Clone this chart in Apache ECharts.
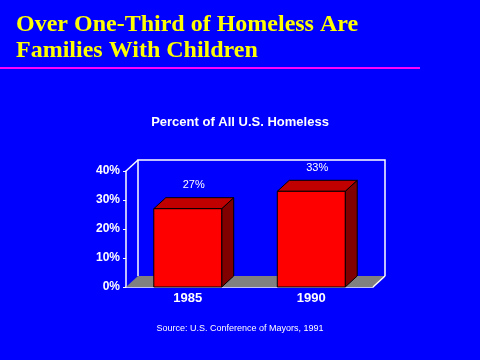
<!DOCTYPE html>
<html>
<head>
<meta charset="utf-8">
<script src="https://cdn.jsdelivr.net/npm/echarts@6/dist/echarts.min.js"></script>
<style>html,body{margin:0;padding:0;background:#0000FF;}#c{width:480px;height:360px;}</style>
</head>
<body>
<div id="c"></div>
<script>
var categories = ['1985', '1990'];
var values = [27, 33];
var yTicks = [0, 10, 20, 30, 40];
var mainTitle = 'Over One-Third of Homeless Are\nFamilies With Children';
var chartTitle = 'Percent of All U.S. Homeless';
var sourceText = 'Source: U.S. Conference of Mayors, 1991';

var DX = 12, DY = -11;
var chart = echarts.init(document.getElementById('c'), null, {renderer: 'canvas'});

function frameRender(params, api) {
  var cs = params.coordSys;
  var x = cs.x, y = cs.y, w = cs.width, h = cs.height;
  var b = y + h;
  return {
    type: 'group',
    children: [
      {type: 'polygon', shape: {points: [[x, b], [x + w, b], [x + w + DX, b + DY], [x + DX, b + DY]]},
        style: {fill: '#808080', stroke: null}},
      {type: 'polyline', shape: {points: [[x + DX, b + DY], [x + DX, y + DY], [x + w + DX, y + DY], [x + w + DX, b + DY]]},
        style: {fill: null, stroke: '#FFFFFF', lineWidth: 1.5}},
      {type: 'line', shape: {x1: x, y1: y, x2: x + DX, y2: y + DY}, style: {stroke: '#FFFFFF', lineWidth: 1.5}},
      {type: 'line', shape: {x1: x + w, y1: b, x2: x + w + DX, y2: b + DY}, style: {stroke: '#FFFFFF', lineWidth: 1.5}}
    ]
  };
}

function barRender(params, api) {
  var idx = api.value(0);
  var val = api.value(1);
  var top = api.coord([idx, val]);
  var bot = api.coord([idx, 0]);
  var bw = api.size([1, 0])[0] * 0.55;
  var l = top[0] - bw / 2, r = top[0] + bw / 2, t = top[1], bb = bot[1];
  return {
    type: 'group',
    children: [
      {type: 'polygon', shape: {points: [[r, t], [r + DX, t + DY], [r + DX, bb + DY], [r, bb]]},
        style: {fill: '#800000', stroke: '#000000', lineWidth: 1}},
      {type: 'polygon', shape: {points: [[l, t], [l + DX, t + DY], [r + DX, t + DY], [r, t]]},
        style: {fill: '#C00000', stroke: '#000000', lineWidth: 1}},
      {type: 'rect', shape: {x: l, y: t, width: bw, height: bb - t},
        style: {fill: '#FF0000', stroke: '#000000', lineWidth: 1}},
      {type: 'text', style: {text: val + '%', x: top[0] + DX / 2, y: t + DY - 12.5,
        textAlign: 'center', textVerticalAlign: 'middle',
        font: 'normal 11px "Liberation Sans", Arial, sans-serif', fill: '#FFFFFF'}}
    ]
  };
}

chart.setOption({
  backgroundColor: '#0000FF',
  animation: false,
  title: [
    {text: mainTitle, left: 16, top: 12, padding: 0,
      textStyle: {color: '#FFFF00', fontFamily: '"Liberation Serif", "Times New Roman", serif', fontWeight: 'bold', fontSize: 24, lineHeight: 26}},
    {text: chartTitle, left: 'center', top: 116, padding: 0,
      textStyle: {color: '#FFFFFF', fontFamily: '"Liberation Sans", Arial, sans-serif', fontWeight: 'bold', fontSize: 13}},
    {text: sourceText, left: 'center', top: 324, padding: 0,
      textStyle: {color: '#FFFFFF', fontFamily: '"Liberation Sans", Arial, sans-serif', fontWeight: 'normal', fontSize: 9}}
  ],
  graphic: [
    {type: 'line', shape: {x1: 0, y1: 68, x2: 420, y2: 68}, style: {stroke: '#FF00FF', lineWidth: 2}}
  ],
  grid: {left: 126, right: 107, top: 171, bottom: 73, containLabel: false},
  xAxis: {
    type: 'category', data: categories,
    axisLine: {show: true, lineStyle: {color: '#FFFFFF', width: 1.5}},
    axisTick: {show: false},
    axisLabel: {color: '#FFFFFF', fontWeight: 'bold', fontSize: 13, fontFamily: '"Liberation Sans", Arial, sans-serif', margin: 5},
    splitLine: {show: false}
  },
  yAxis: {
    type: 'value', min: yTicks[0], max: yTicks[yTicks.length - 1], interval: 10,
    axisLine: {show: true, lineStyle: {color: '#FFFFFF', width: 1.5}},
    axisTick: {show: true, length: 3, lineStyle: {color: '#FFFFFF'}},
    axisLabel: {color: '#FFFFFF', fontWeight: 'bold', fontSize: 12, fontFamily: '"Liberation Sans", Arial, sans-serif', margin: 6, formatter: '{value}%'},
    splitLine: {show: false}
  },
  series: [
    {type: 'custom', renderItem: frameRender, data: [[0, 0]], z: 1, silent: true},
    {type: 'custom', renderItem: barRender, data: categories.map(function (c, i) { return [i, values[i]]; }), z: 3}
  ]
});
</script>
</body>
</html>
